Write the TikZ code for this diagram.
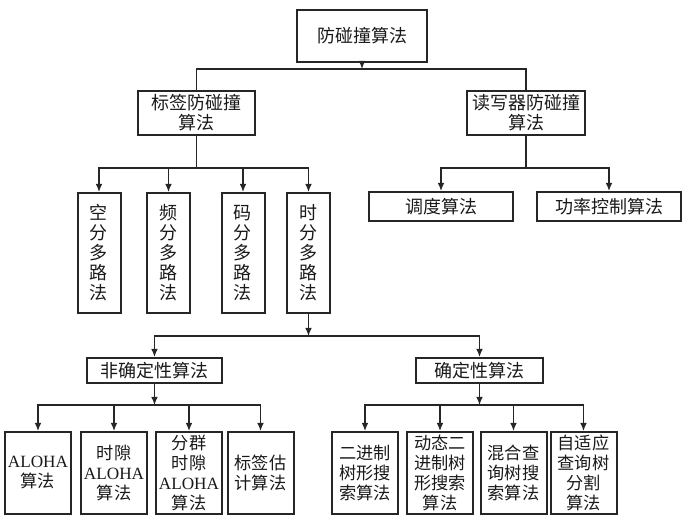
\documentclass[tikz,border=0pt]{standalone}
\usepackage{fontspec}
\setmainfont{Liberation Serif}
\newfontfamily\cjk{Noto Sans CJK SC}
\usetikzlibrary{arrows.meta}
\tikzset{
  box/.style={draw=black!85, line width=1pt, inner sep=0pt, align=center,
    font=\cjk\fontsize{9}{10}\selectfont, text=black!90},
  vbox/.style={box, minimum width=21.5pt, minimum height=60pt},
  lbox/.style={box, minimum width=33pt, minimum height=41pt,
    font=\cjk\fontsize{8.6}{10}\selectfont},
  arr/.style={-{Latex[length=4pt,width=3.4pt]}, line width=0.7pt, black!85},
  ln/.style={line width=0.7pt, black!85}
}
\begin{document}
\begin{tikzpicture}[x=0.5pt,y=-0.5pt]
\useasboundingbox (0,0) rectangle (687,528);

% top levels
\node[box, minimum width=65pt, minimum height=26pt] (top) at (362,36) {防碰撞算法};
\node[box, minimum width=58.5pt, minimum height=22pt] (tag) at (196.5,113) {标签防碰撞\\算法};
\node[box, minimum width=59pt, minimum height=22pt] (reader) at (526,113) {读写器防碰撞\\算法};

% multiplexing methods
\node[vbox] (kong) at (99,253) {空\\分\\多\\路\\法};
\node[vbox] (pin) at (168.5,253) {频\\分\\多\\路\\法};
\node[vbox] (ma) at (243,253) {码\\分\\多\\路\\法};
\node[vbox] (shi) at (308.5,253) {时\\分\\多\\路\\法};

\node[box, minimum width=72pt, minimum height=14.5pt] (sched) at (441,206.5) {调度算法};
\node[box, minimum width=72pt, minimum height=14.5pt] (power) at (609,206.5) {功率控制算法};

\node[box, minimum width=67.5pt, minimum height=12.5pt] (nondet) at (154.5,370.5) {非确定性算法};
\node[box, minimum width=63.5pt, minimum height=12.5pt] (det) at (479.5,370.5) {确定性算法};

% bottom row
\node[lbox] (a1) at (38,473) {{\rmfamily ALOHA}\\算法};
\node[lbox] (a2) at (114,473) {时隙\\{\rmfamily ALOHA}\\算法};
\node[lbox] (a3) at (189,473) {分群\\时隙\\{\rmfamily ALOHA}\\算法};
\node[lbox] (a4) at (260.5,473) {标签估\\计算法};
\node[lbox] (d1) at (365,473) {二进制\\树形搜\\索算法};
\node[lbox] (d2) at (440,473) {动态二\\进制树\\形搜索\\算法};
\node[lbox] (d3) at (513.5,473) {混合查\\询树搜\\索算法};
\node[lbox] (d4) at (583.5,473) {自适应\\查询树\\分割\\算法};

% bus points
\coordinate (b1) at (362,69);
\coordinate (b2) at (196.5,168);
\coordinate (b3) at (526,168);
\coordinate (b4) at (308.5,336);
\coordinate (b5) at (154.5,405);
\coordinate (b6) at (479.5,405);

% connectors
\draw[arr] (top) -- (b1);
\draw[ln] (tag.north) |- (b1) -| (reader.north);
\draw[ln] (tag) -- (b2);
\foreach \n in {kong,pin,ma,shi} \draw[arr] (b2) -| (\n.north);
\draw[ln] (reader) -- (b3);
\foreach \n in {sched,power} \draw[arr] (b3) -| (\n.north);
\draw[arr] (shi) -- (b4);
\foreach \n in {nondet,det} \draw[arr] (b4) -| (\n.north);
\draw[arr] (nondet) -- (b5);
\foreach \n in {a1,a2,a3,a4} \draw[arr] (b5) -| (\n.north);
\draw[arr] (det) -- (b6);
\foreach \n in {d1,d2,d3,d4} \draw[arr] (b6) -| (\n.north);
\end{tikzpicture}
\end{document}
